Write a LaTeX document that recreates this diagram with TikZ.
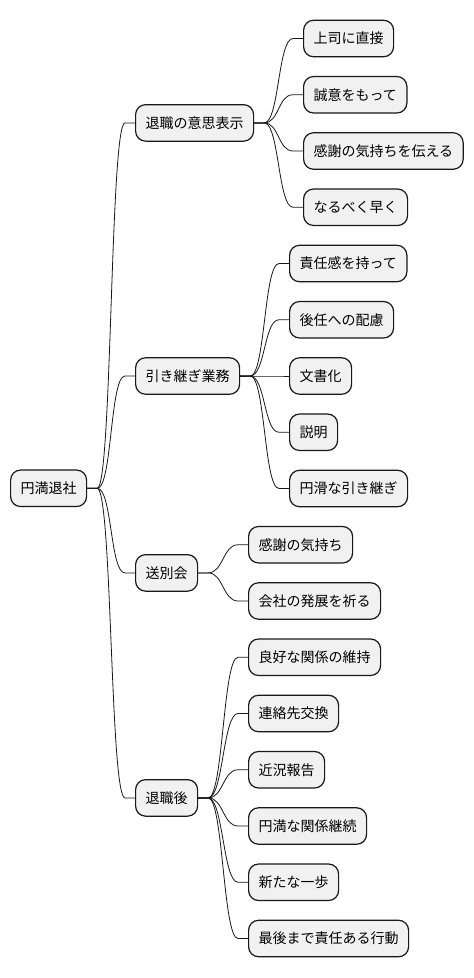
\documentclass[tikz,border=0pt]{standalone}
\usepackage{fontspec}
\setmainfont{Noto Sans CJK JP}
\usepackage{xcolor}
\usepackage{tikz}
\usetikzlibrary{shapes,arrows,positioning,calc}

\definecolor{boxgray}{HTML}{F1F1F1}
\definecolor{linedark}{HTML}{181818}

\tikzset{
    topic/.style={
        draw=linedark,
        line width=1.2pt,
        rounded corners=10pt,
        fill=boxgray,
        minimum height=36.5pt,
        inner xsep=10pt,
        anchor=west,
        font=\fontsize{14pt}{16pt}\selectfont
    },
    branch/.style={
        draw=linedark,
        line width=0.8pt,
        to path={-- ++(10,0) .. controls +(15,0) and +(-15,0) .. ([xshift=-10pt]\tikztotarget.west) -- (\tikztotarget.west)}
    }
}

\begin{document}
\begin{tikzpicture}[x=1pt,y=-1pt]
                \useasboundingbox[fill=white] (0,0) rectangle (474,978);

                \node[topic] (enman) at (10,488.3) {円満退社};

                \node[topic] (ishi) at (135,122.9) {退職の意思表示};
                \node[topic] (hikitsugi) at (135,376) {引き継ぎ業務};
                \node[topic] (sobetsu) at (135,572.9) {送別会};
                \node[topic] (taishokugo) at (135,797.9) {退職後};

                \node[topic] (joshi) at (303,38.5) {上司に直接};
                \node[topic] (seii) at (303,94.75) {誠意をもって};
                \node[topic] (kansha) at (303,151) {感謝の気持ちを伝える};
                \node[topic] (hayaku) at (303,207.25) {なるべく早く};

                \node[topic] (sekinin) at (289,263.5) {責任感を持って};
                \node[topic] (kounin) at (289,319.75) {後任への配慮};
                \node[topic] (bunsho) at (289,376) {文書化};
                \node[topic] (setsumei) at (289,432.25) {説明};
                \node[topic] (enkatsu) at (289,488.5) {円滑な引き継ぎ};

                \node[topic] (kimochi) at (248,544.75) {感謝の気持ち};
                \node[topic] (hatten) at (248,601) {会社の発展を祈る};

                \node[topic] (ryoukou) at (248,657.25) {良好な関係の維持};
                \node[topic] (renraku) at (248,713.5) {連絡先交換};
                \node[topic] (kinkyou) at (248,769.75) {近況報告};
                \node[topic] (keizoku) at (248,826) {円満な関係継続};
                \node[topic] (ippo) at (248,882.25) {新たな一歩};
                \node[topic] (saigo) at (248,938.5) {最後まで責任ある行動};

                \draw[branch] (enman.east) to (ishi);
                \draw[branch] (enman.east) to (hikitsugi);
                \draw[branch] (enman.east) to (sobetsu);
                \draw[branch] (enman.east) to (taishokugo);

                \draw[branch] (ishi.east) to (joshi);
                \draw[branch] (ishi.east) to (seii);
                \draw[branch] (ishi.east) to (kansha);
                \draw[branch] (ishi.east) to (hayaku);

                \draw[branch] (hikitsugi.east) to (sekinin);
                \draw[branch] (hikitsugi.east) to (kounin);
                \draw[branch] (hikitsugi.east) to (bunsho);
                \draw[branch] (hikitsugi.east) to (setsumei);
                \draw[branch] (hikitsugi.east) to (enkatsu);

                \draw[branch] (sobetsu.east) to (kimochi);
                \draw[branch] (sobetsu.east) to (hatten);

                \draw[branch] (taishokugo.east) to (ryoukou);
                \draw[branch] (taishokugo.east) to (renraku);
                \draw[branch] (taishokugo.east) to (kinkyou);
                \draw[branch] (taishokugo.east) to (keizoku);
                \draw[branch] (taishokugo.east) to (ippo);
                \draw[branch] (taishokugo.east) to (saigo);

            \end{tikzpicture}
\end{document}
